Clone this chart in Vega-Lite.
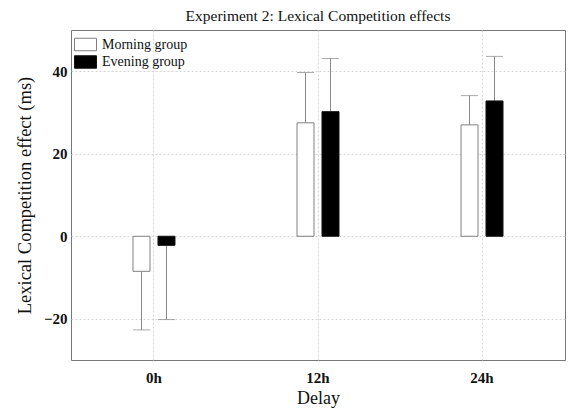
{
  "$schema": "https://vega.github.io/schema/vega-lite/v6.json",
  "width": 494,
  "height": 330,
  "autosize": "none",
  "padding": {"left": 71, "top": 30, "right": 3, "bottom": 51},
  "background": "white",
  "title": {"text": "Experiment 2: Lexical Competition effects", "font": "Liberation Serif", "fontSize": 15.5, "fontWeight": "normal", "color": "#111", "anchor": "middle", "offset": 6},
  "config": {
    "view": {"stroke": "#777", "strokeWidth": 1},
    "axis": {"domain": false, "ticks": false, "grid": true, "gridColor": "#d4d4d4", "gridDash": [2, 2], "gridWidth": 1}
  },
  "data": {"values": [
    {"delay": "0h", "group": "Morning group", "mean": -8.5, "err": -22.7},
    {"delay": "0h", "group": "Evening group", "mean": -2.2, "err": -20.2},
    {"delay": "12h", "group": "Morning group", "mean": 27.5, "err": 39.7},
    {"delay": "12h", "group": "Evening group", "mean": 30.2, "err": 43.1},
    {"delay": "24h", "group": "Morning group", "mean": 27.0, "err": 34.1},
    {"delay": "24h", "group": "Evening group", "mean": 32.8, "err": 43.6}
  ]},
  "encoding": {
    "x": {"field": "delay", "type": "nominal", "sort": ["0h", "12h", "24h"],
      "scale": {"paddingInner": 0.744, "paddingOuter": 0.378},
      "axis": {"title": "Delay", "labelAngle": 0, "bandPosition": 0.5, "labelFont": "Liberation Serif", "labelFontWeight": "bold", "labelFontSize": 15, "labelColor": "#111", "labelPadding": 10, "titleFont": "Liberation Serif", "titleFontSize": 18, "titleFontWeight": "normal", "titleColor": "#111", "titlePadding": 4}},
    "xOffset": {"field": "group", "type": "nominal", "sort": ["Morning group", "Evening group"],
      "scale": {"paddingInner": 0.32, "paddingOuter": 0}}
  },
  "layer": [
    {
      "mark": {"type": "rule", "color": "#888", "strokeWidth": 1},
      "encoding": {
        "y": {"field": "mean", "type": "quantitative"},
        "y2": {"field": "err"}
      }
    },
    {
      "mark": {"type": "tick", "color": "#888", "size": 17, "thickness": 1},
      "encoding": {
        "y": {"field": "err", "type": "quantitative"}
      }
    },
    {
      "mark": {"type": "bar", "strokeWidth": 1},
      "encoding": {
        "y": {"field": "mean", "type": "quantitative",
          "scale": {"domain": [-30, 50], "nice": false},
          "axis": {"values": [-20, 0, 20, 40], "title": "Lexical Competition effect (ms)", "labelFont": "Liberation Serif", "labelFontWeight": "bold", "labelFontSize": 15, "labelColor": "#111", "labelPadding": 4, "titleFont": "Liberation Serif", "titleFontSize": 18.5, "titleFontWeight": "normal", "titleColor": "#111", "titleX": -47, "titleAlign": "center", "titleBaseline": "middle", "titleAngle": -90}},
        "y2": {"datum": 0},
        "fill": {"field": "group", "type": "nominal", "sort": ["Morning group", "Evening group"],
          "scale": {"domain": ["Morning group", "Evening group"], "range": ["white", "black"]},
          "legend": {"title": null, "orient": "none", "legendX": 6, "legendY": 6, "padding": 0, "symbolType": "M-1.375,-0.78H1.375V0.78H-1.375Z", "symbolSize": 256, "symbolStrokeWidth": 1, "labelFont": "Liberation Serif", "labelFontSize": 14, "labelColor": "#111", "labelOffset": 8, "rowPadding": 0.5, "symbolOffset": 0}},
        "stroke": {"field": "group", "type": "nominal", "sort": ["Morning group", "Evening group"],
          "scale": {"domain": ["Morning group", "Evening group"], "range": ["#808080", "#111"]}}
      }
    }
  ]
}
